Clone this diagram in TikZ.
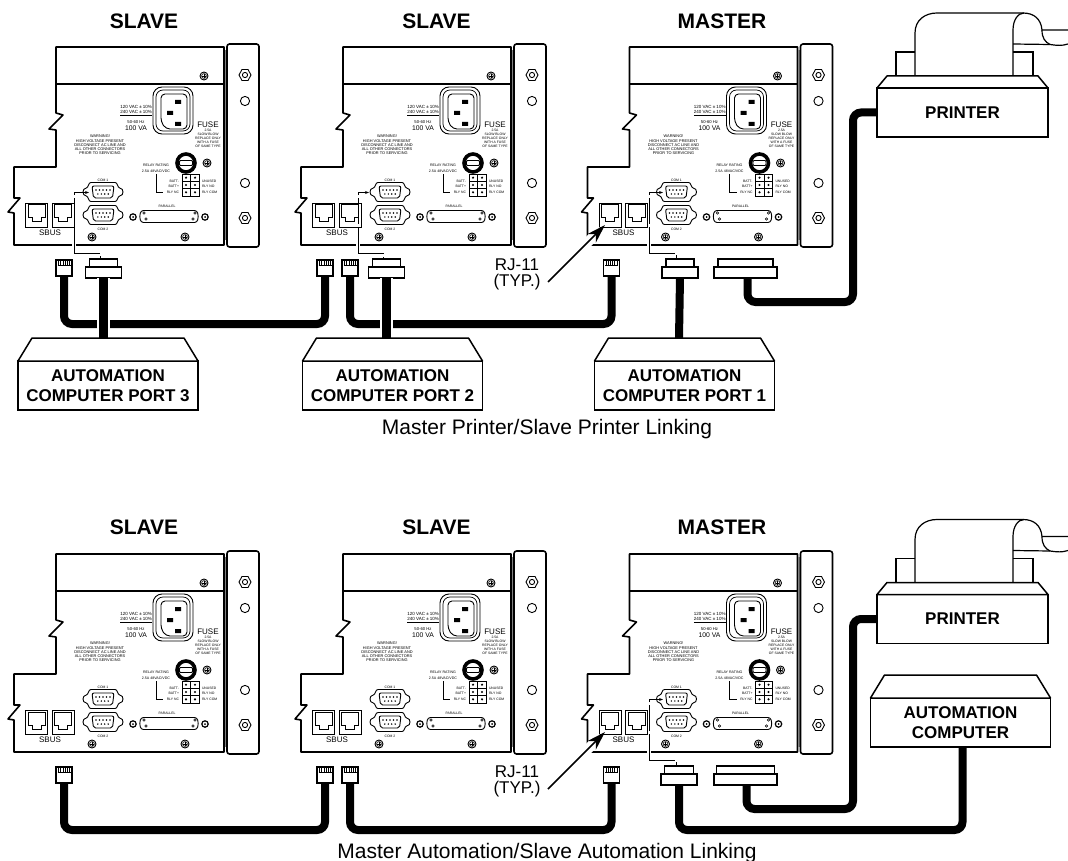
\documentclass[tikz,border=0pt]{standalone}
\usepackage{fontspec}
\setmainfont{Liberation Sans}
\usetikzlibrary{arrows.meta,calc}
\newcounter{tn}
\newcommand{\fs}[1]{\fontsize{#1}{#1}\selectfont}
\tikzset{
  x=1pt,y=-1pt,
  outline/.style={line width=1.6pt,line join=round},
  thinl/.style={line width=.6pt},
  lbl/.style={inner sep=0pt,outer sep=0pt},
  cable/.style={line width=8pt,rounded corners=8pt},
  halo/.style={line width=13pt,white},
  dashl/.style={line width=.9pt,dash pattern=on 26pt off 3pt},
  plugbox/.style={draw,fill=white,line width=1.4pt,inner sep=0pt,outer sep=0pt},
  hostbox/.style={draw,fill=white,line width=1.5pt,inner sep=0pt,outer sep=0pt,align=center,font=\fs{17}\bfseries},
  heading/.style={lbl,font=\fs{21}\bfseries},
  caption/.style={lbl,font=\fs{21}},
  typ/.style={lbl,font=\fs{17},align=center},
}
\newcommand{\txt}[4]{\stepcounter{tn}\node[lbl,#1] (t\thetn) at (#2) {\fs{#3}#4};}
\newcommand{\scr}[2]{\begin{scope}[shift={(#1,#2)}]
  \draw[line width=.9pt] (0,0) circle (4);
  \draw[thinl] (0,0) circle (2.4);
  \draw[line width=.7pt] (-1.8,0)--(1.8,0) (0,-1.8)--(0,1.8);
\end{scope}}
\newcommand{\nut}[2]{\begin{scope}[shift={(#1,#2)}]
  \draw[line width=.9pt] (-6,0)--(-3,-5.5)--(3,-5.5)--(6,0)--(3,5.5)--(-3,5.5)--cycle;
  \draw[line width=.9pt] (0,0) circle (2.6);
\end{scope}}
\newcommand{\ring}[2]{\begin{scope}[shift={(#1,#2)}]
  \draw[line width=1.2pt] (0,0) circle (3.2);
  \fill (0,0) circle (1);
\end{scope}}
\newcommand{\dsub}[2]{\begin{scope}[shift={(#1,#2)}]
  \draw[line width=.9pt] (-12,-9.5)--(12,-9.5) .. controls (15,-9.5) and (14,-4.5) .. (17,-3.8)
     .. controls (21,-3.8) and (21,3.8) .. (17,3.8) .. controls (14,4.5) and (15,9.5) .. (12,9.5)
     -- (-12,9.5) .. controls (-15,9.5) and (-14,4.5) .. (-17,3.8)
     .. controls (-21,3.8) and (-21,-3.8) .. (-17,-3.8) .. controls (-14,-4.5) and (-15,-9.5) .. (-12,-9.5) -- cycle;
  \draw[line width=.9pt,rounded corners=2pt] (-11,-6)--(11,-6)--(9.5,6)--(-9.5,6)--cycle;
  \foreach \q in {-7,-3.5,0,3.5,7} \fill (\q,-2) circle (.8);
  \foreach \q in {-5.2,-1.7,1.7,5.2} \fill (\q,2) circle (.8);
\end{scope}}
\newcommand{\jack}[2]{\begin{scope}[shift={(#1,#2)}]
  \draw[line width=.7pt] (0,0) rectangle (22,24);
  \draw[line width=1pt] (2.5,2)--(19.5,2)--(19.5,15)--(15.5,15)--(15.5,19)--(6.5,19)--(6.5,15)--(2.5,15)--cycle;
\end{scope}}
\newcommand{\rearpanel}[2]{\begin{scope}[shift={(#1,#2)}]
  \draw[outline] (56,84)--(56,113)--(63,115)--(49,129)--(56,130)--(56,167)--(14,167)--(14,198)--(20,198)--(8,212)--(14,213)--(14,245)--(224,245)--(224,47)--(56,47)--(56,84)--(224,84);
  \draw[gray,line width=1.8pt] (225.8,50)--(225.8,240);
  \draw[outline,rounded corners=2.5pt] (227,44) rectangle (259,247);
  \scr{204}{76}\scr{207}{163}\scr{92}{237}\scr{185}{237}
  \nut{245}{75}\nut{245}{218}
  \draw[line width=.9pt] (245,101) circle (4.6) (245,183) circle (4.6);
  \draw[line width=.9pt,rounded corners=9pt] (153,87) rectangle (193,134);
  \draw[line width=.7pt,rounded corners=7pt] (156,90) rectangle (190,131);
  \draw[line width=.9pt,rounded corners=4pt] (161,94) -- (187,94) -- (187,129) -- (166,129) -- (161,122) -- cycle;
  \fill (175,100) rectangle (181,104) (167,111) rectangle (173,115) (175,122) rectangle (181,126);
  \txt{anchor=east}{152,107}{4.5}{120 VAC ± 10\%}
  \txt{anchor=east}{152,113}{4.5}{\underline{240 VAC ± 10\%}}
  \txt{}{136,122}{4.2}{50-60 Hz}
  \txt{}{136,128.5}{6.8}{100 VA}
  \txt{}{208,125}{8}{FUSE}
  \txt{}{208,130}{3.4}{2.5A}
  \txt{}{208,134}{3.4}{SLOW BLOW}
  \txt{}{208,138}{3.4}{REPLACE ONLY}
  \txt{}{208,142}{3.4}{WITH A FUSE}
  \txt{}{208,146}{3.4}{OF SAME TYPE}
  \txt{}{100,136}{3.9}{WARNING!}
  \txt{}{100,141}{3.9}{HIGH VOLTAGE PRESENT}
  \txt{}{100,145}{3.9}{DISCONNECT AC LINE AND}
  \txt{}{100,149}{3.9}{ALL OTHER CONNECTORS}
  \txt{}{100,153}{3.9}{PRIOR TO SERVICING}
  \draw[line width=3.6pt] (186,163) circle (9);
  \draw[line width=.8pt,rounded corners=1pt,fill=white] (179.5,160.5) rectangle (192.5,165.5);
  \txt{}{156,165}{3.6}{RELAY RATING}
  \txt{}{156,171}{3.6}{2.5A 48VAC/VDC}
  \draw[line width=.7pt] (156,174)--(156,192)--(163,192);
  \txt{anchor=east}{179,181}{3.4}{BATT-}
  \txt{anchor=east}{179,186.5}{3.4}{BATT+}
  \txt{anchor=east}{179,192}{3.4}{RLY NC}
  \txt{anchor=west}{202,181}{3.4}{UNUSED}
  \txt{anchor=west}{202,186.5}{3.4}{RLY NO}
  \txt{anchor=west}{202,192}{3.4}{RLY COM}
  \draw[line width=.9pt] (182,174) rectangle (199,196) (190.5,174)--(190.5,196) (182,181.3)--(199,181.3) (182,188.7)--(199,188.7);
  \foreach \q in {186,195} \foreach \r in {177.7,185,192.3} \fill (\q,\r) circle (1.2);
  \txt{}{103,180}{3.4}{COM 1}
  \dsub{103}{192}\dsub{103}{215}
  \txt{}{103,229}{3.4}{COM 2}
  \txt{}{167,206}{3.4}{PARALLEL}
  \ring{133}{217}\ring{205}{217}
  \draw[line width=.9pt,rounded corners=2.5pt] (141,210.5)--(197,210.5)--(198.5,216.5)--(197,222.5)--(141,222.5)--(139.5,216.5)--cycle;
  \draw[line width=.5pt] (144,213) circle (1.2) (146,219) circle (1.2) (195,213) circle (1.2) (193,219) circle (1.2);
  \jack{25.5}{203}\jack{52}{203}
  \txt{}{50,233}{8}{SBUS}
\end{scope}}
\newcommand{\rjplug}[3]{\node[plugbox,minimum width=16pt,minimum height=16pt] (#1) at (#2,#3) {};
  \foreach \q in {-5.5,-3.3,-1.1,1.1,3.3,5.5} \draw[line width=.7pt] (#2+\q,#3-7)--(#2+\q,#3-2.5);
  \draw[line width=.7pt] (#2-6.5,#3-2.5)--(#2+6.5,#3-2.5);}
\newcommand{\dbplug}[5]{% name, cx, ytop, top width, lower width
  \node[plugbox,minimum width=#4pt,minimum height=8pt] (#1t) at (#2,#3+4) {};
  \node[plugbox,minimum width=#5pt,minimum height=11pt] (#1) at (#2,#3+13.5) {};}
\newcommand{\hostnode}[6]{% name, cx, ytop, w, inset, text
  \node[hostbox,minimum width=#4pt,minimum height=49pt] (#1) at (#2,#3+24.5) {#6};
  \draw[fill=white,line width=1.5pt,line join=round] (#1.north west)--($(#1.north west)+(#5,-23)$)--($(#1.north east)+(-#5,-23)$)--(#1.north east)--cycle;}
\newcommand{\printerunit}[2]{\begin{scope}[shift={(0,#2)}]
  \draw[line width=1.2pt,fill=white] (896,76)--(896,52)--(915,52) (1013,52)--(1033,52)--(1033,76);
  \draw[line width=1.2pt,fill=white] (915,76)--(915,33) .. controls (915,20) and (925,13) .. (937,13)--(1023,13) .. controls (1034,13) and (1041,19) .. (1042,30)--(1068,30);
  \draw[line width=1.2pt] (1013,44)--(1050,44.5) .. controls (1057,45.5) and (1062,46) .. (1068,44);
  \draw[line width=1.2pt] (1042,30) .. controls (1042,38) and (1045,42) .. (1050,44.5);
  \draw[line width=1.2pt] (1013,76)--(1013,30) .. controls (1013,20) and (1018,13) .. (1024,13);
  \node[hostbox,minimum width=171pt,minimum height=49pt] (#1) at (962.5,112.5) {PRINTER};
  \draw[fill=white,line width=1.5pt,line join=round] (#1.north west)--(887,76)--(1038,76)--(#1.north east)--cycle;
\end{scope}}
\begin{document}
\begin{tikzpicture}
\useasboundingbox (0,0) rectangle (1068,861);
% ---------- headings
\node[heading] (h1) at (144,21) {SLAVE};
\node[heading] (h2) at (436.5,21) {SLAVE};
\node[heading] (h3) at (722,21) {MASTER};
\node[heading] (h4) at (144,527) {SLAVE};
\node[heading] (h5) at (436.5,527) {SLAVE};
\node[heading] (h6) at (722,527) {MASTER};
% ---------- panels
\rearpanel{0}{0}\rearpanel{287}{0}\rearpanel{573.5}{0}
\rearpanel{0}{507}\rearpanel{287}{507}\rearpanel{573.5}{507}
% ---------- dashed COM links
\foreach \a/\b/\c in {74/88/101, 358/368/384, 649/662/677}{
  \draw[white,line width=4pt] (\a,238)--(\a,250);
  \draw[dashl,-{Stealth[length=4pt,width=3pt]}] (\a,253)--(\a,192.5)--(\b+1,192.5);
  \draw[dashl] (\a,253)--(\c-1,253)--(\c-1,259);
}
\draw[white,line width=4pt] (649,745)--(649,757);
\draw[dashl,-{Stealth[length=4pt,width=3pt]}] (649,760)--(649,699.5)--(663,699.5);
\draw[dashl] (649,760)--(676,760)--(676,766);
% ---------- connectors: upper
\rjplug{ra}{64}{268}\rjplug{rb}{325}{268}\rjplug{rc}{350}{268}\rjplug{rd}{611.5}{268}
\dbplug{da}{103.5}{259}{28}{36}
\dbplug{db}{386.5}{259}{28}{36}
\dbplug{dc}{680}{259}{28}{36}
\dbplug{dp}{745.5}{259}{55}{63}
\coordinate (ma) at (200,324);\coordinate (mb) at (480,324);
\draw[cable] (ra.south) |- (ma) -| (rb.south);
\draw[cable] (rc.south) |- (mb) -| (rd.south);
\coordinate (ea) at (103.5,338);\coordinate (eb) at (386.5,338);\coordinate (ec) at (679,338);
\draw[halo] (da.south) -- (ea);
\draw[line width=8.5pt] (da.south) -- (ea);
\draw[halo] (db.south) -- (eb);
\draw[line width=8.5pt] (db.south) -- (eb);
\draw[line width=8pt] (dc.south) -- (ec);
\printerunit{prna}{0}
\coordinate (mp) at (800,302);
\draw[cable] (dp.south) ++(2,0) |- (mp) -| ($(prna.west)+(-24,0)$) -- (prna.west);
\hostnode{ca}{108}{361}{180}{14}{AUTOMATION\\[3pt]COMPUTER PORT 3}
\hostnode{cb}{392.5}{361}{180}{14}{AUTOMATION\\[3pt]COMPUTER PORT 2}
\hostnode{cc}{684.5}{361}{180}{14}{AUTOMATION\\[3pt]COMPUTER PORT 1}
\node[caption] (cap1) at (547,429) {Master Printer/Slave Printer Linking};
% ---------- connectors: lower
\rjplug{re}{64}{775}\rjplug{rf}{325}{775}\rjplug{rg}{350}{775}\rjplug{rh}{611.5}{775}
\dbplug{dd}{679}{766}{29}{36}
\dbplug{dq}{745.5}{766}{58}{63}
\coordinate (mc) at (200,830);\coordinate (md) at (480,830);\coordinate (me) at (800,830);\coordinate (mq) at (800,809);
\draw[cable] (re.south) |- (mc) -| (rf.south);
\draw[cable] (rg.south) |- (md) -| (rh.south);
\printerunit{prnb}{506.5}
\draw[cable] (dq.south) ++(1,0) |- (mq) -| ($(prnb.west)+(-24,0)$) -- (prnb.west);
\hostnode{cd}{960.5}{698}{180}{14}{AUTOMATION\\[3pt]COMPUTER}
\coordinate (cdl) at ($(cd.south)+(2,0)$);
\draw[cable] (dd.south) |- (me) -| (cdl);
\node[caption] (cap2) at (547,853) {Master Automation/Slave Automation Linking};
% ---------- RJ-11 callouts
\node[typ] (rja) at (517,274.5) {RJ-11\\[-1pt](TYP.)};
\node[typ] (rjb) at (517,781.5) {RJ-11\\[-1pt](TYP.)};
\coordinate (sa) at (548,282);\coordinate (ta) at (605,225);
\coordinate (sb) at (548,789);\coordinate (tb) at (605,732);
\draw[white,line width=10pt] ($(ta)+(-22,22)$)--($(ta)+(-4,4)$);
\draw[white,line width=10pt] ($(tb)+(-22,22)$)--($(tb)+(-4,4)$);
\draw[line width=1.5pt,-{Stealth[length=19pt,width=12pt]}] (sa)--(ta);
\draw[line width=1.5pt,-{Stealth[length=19pt,width=12pt]}] (sb)--(tb);
\end{tikzpicture}
\end{document}
